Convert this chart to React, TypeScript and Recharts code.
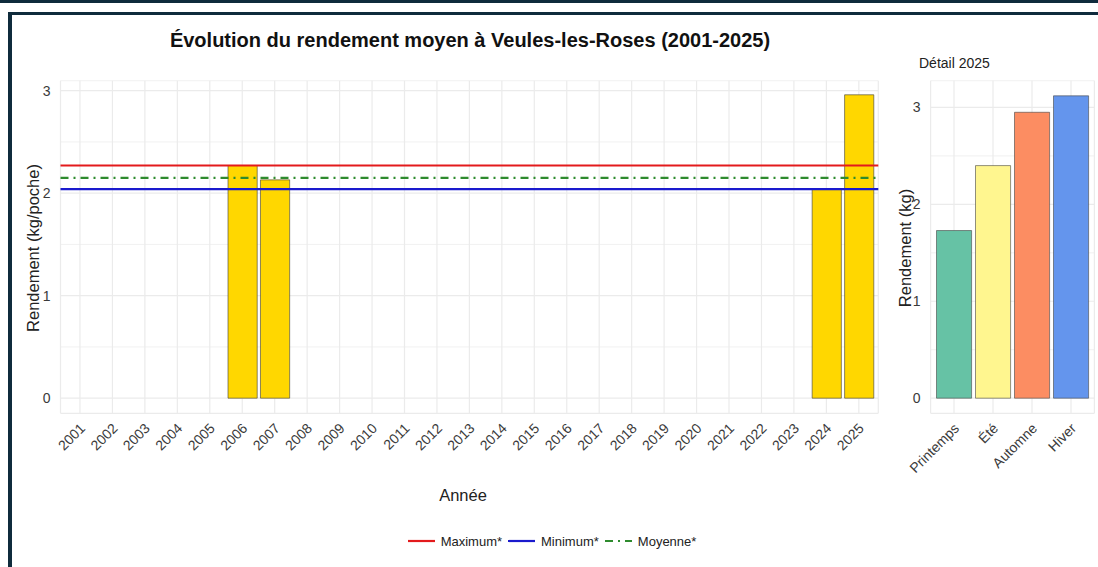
import React from 'react';
import { BarChart, Bar, XAxis, YAxis, CartesianGrid, ReferenceLine, Cell } from 'recharts';

// ---------- data ----------
const YEARS = ['2001','2002','2003','2004','2005','2006','2007','2008','2009','2010','2011','2012','2013','2014','2015','2016','2017','2018','2019','2020','2021','2022','2023','2024','2025'];
const RENDEMENT: (number | null)[] = [null,null,null,null,null,2.27,2.13,null,null,null,null,null,null,null,null,null,null,null,null,null,null,null,null,2.04,2.96];
const REF_MAX = 2.27;
const REF_MIN = 2.04;
const REF_MEAN = 2.15;
const Y_TICKS = [0, 0.5, 1, 1.5, 2, 2.5, 3];

const SEASONS = ['Printemps','Été','Automne','Hiver'];
const SEASON_VALUES = [1.73, 2.40, 2.95, 3.12];
const SEASON_COLORS = ['#66C2A5','#FFF68F','#FC8D62','#6495ED'];

const LEGEND_LABELS = ['Maximum*','Minimum*','Moyenne*'];
const LEGEND_COLORS = ['#e31a1c','#1a1acd','#2e8b2e'];
const LEGEND_DASH = ['', '', '8 5 2 5'];

const mainData = YEARS.map((y, i) => ({ annee: y, rendement: RENDEMENT[i] }));
const seasonData = SEASONS.map((s, i) => ({ saison: s, valeur: SEASON_VALUES[i] }));

const FONT = '"Liberation Sans", Arial, Helvetica, sans-serif';
const FRAME = '#0f2b3c';

const RotTick = (props: any) => {
  const { x, y, payload } = props;
  return (
    <g transform={`translate(${x + 6},${y + 8})`}>
      <text textAnchor="end" transform="rotate(-45)" fontSize={14} fill="#3a3a3a" fontFamily={FONT}>
        {payload.value}
      </text>
    </g>
  );
};

const intFmt = (v: number) => (Number.isInteger(v) ? String(v) : '');

const hGrid = (p: any) => {
  const major = p.index === undefined || p.index % 2 === 0;
  return (
    <line
      key={p.key}
      x1={p.x1}
      y1={p.y1}
      x2={p.x2}
      y2={p.y2}
      stroke="#ebebeb"
      strokeWidth={major ? 1.2 : 0.7}
    />
  );
};

export default function App() {
  const mainLeft = 60.5;
  const mainRight = 878.3;
  const mainPlotW = mainRight - mainLeft;
  const mainBand = mainPlotW / 25.2;
  const mainPad = 0.1 * mainBand;

  const sideLeftAbs = 930.6;
  const sideRightAbs = 1094.4;
  const sideChartLeft = 880;
  const sideChartW = 218;
  const sideBand = (sideRightAbs - sideLeftAbs) / 4.2;
  const sidePad = 0.1 * sideBand;

  const plotTop = 80.7;
  const plotBottom = 413.3;
  const H = 567;

  return (
    <div style={{ position: 'absolute', left: 0, top: 0, width: 1098, height: 567, background: '#fff', overflow: 'hidden', fontFamily: FONT }}>
      {/* frame */}
      <div style={{ position: 'absolute', left: 0, top: 0, width: 1098, height: 3, background: FRAME }} />
      <div style={{ position: 'absolute', left: 8, top: 12, width: 1090, height: 3, background: FRAME }} />
      <div style={{ position: 'absolute', left: 8, top: 12, width: 4, height: 555, background: FRAME }} />

      {/* main chart */}
      <div style={{ position: 'absolute', left: 0, top: 0 }}>
        <BarChart
          width={900}
          height={H}
          data={mainData}
          margin={{ top: plotTop, right: 900 - mainRight, left: mainLeft - 50, bottom: 0 }}
        >
          <CartesianGrid stroke="#ebebeb" strokeWidth={1.2} horizontal={hGrid} />
          <XAxis
            dataKey="annee"
            type="category"
            interval={0}
            tickLine={false}
            axisLine={false}
            height={H - plotBottom}
            padding={{ left: mainPad, right: mainPad }}
            tick={<RotTick />}
          />
          <YAxis
            type="number"
            width={50}
            domain={[-0.1475, 3.0975]}
            ticks={Y_TICKS}
            tickFormatter={intFmt}
            tickLine={false}
            axisLine={false}
            tickSize={6}
            tickMargin={4}
            tick={{ fontSize: 14, fill: '#3a3a3a', fontFamily: FONT }}
            allowDataOverflow
          />
          <Bar dataKey="rendement" fill="#FFD700" stroke="#3a3a3a" strokeWidth={0.6} barSize={mainBand * 0.9} isAnimationActive={false} />
          <ReferenceLine y={REF_MAX} stroke={LEGEND_COLORS[0]} strokeWidth={2.2} />
          <ReferenceLine y={REF_MIN} stroke={LEGEND_COLORS[1]} strokeWidth={2.2} />
          <ReferenceLine y={REF_MEAN} stroke={LEGEND_COLORS[2]} strokeWidth={2.2} strokeDasharray={LEGEND_DASH[2]} />
        </BarChart>
      </div>

      {/* side chart */}
      <div style={{ position: 'absolute', left: sideChartLeft, top: 0 }}>
        <BarChart
          width={sideChartW}
          height={H}
          data={seasonData}
          margin={{ top: plotTop, right: sideChartLeft + sideChartW - sideRightAbs, left: 0, bottom: 0 }}
        >
          <CartesianGrid stroke="#ebebeb" strokeWidth={1.2} horizontal={hGrid} />
          <XAxis
            dataKey="saison"
            type="category"
            interval={0}
            tickLine={false}
            axisLine={false}
            height={H - plotBottom}
            padding={{ left: sidePad, right: sidePad }}
            tick={<RotTick />}
          />
          <YAxis
            type="number"
            width={sideLeftAbs - sideChartLeft}
            domain={[-0.156, 3.276]}
            ticks={Y_TICKS}
            tickFormatter={intFmt}
            tickLine={false}
            axisLine={false}
            tickSize={6}
            tickMargin={4}
            tick={{ fontSize: 14, fill: '#3a3a3a', fontFamily: FONT }}
            allowDataOverflow
          />
          <Bar dataKey="valeur" stroke="#444" strokeWidth={0.6} barSize={sideBand * 0.9} isAnimationActive={false}>
            {seasonData.map((d, i) => (
              <Cell key={d.saison} fill={SEASON_COLORS[i]} />
            ))}
          </Bar>
        </BarChart>
      </div>

      {/* titles */}
      <svg width={1098} height={567} style={{ position: 'absolute', left: 0, top: 0, pointerEvents: 'none' }}>
        <text x={470} y={40} textAnchor="middle" dominantBaseline="central" fontSize={20} fontWeight="bold" fill="#111" fontFamily={FONT}>
          Évolution du rendement moyen à Veules-les-Roses (2001-2025)
        </text>
        <text x={919} y={63} dominantBaseline="central" fontSize={14} fill="#222" fontFamily={FONT}>
          Détail 2025
        </text>
        <text transform="translate(33,248) rotate(-90)" textAnchor="middle" dominantBaseline="central" fontSize={16.5} fill="#222" fontFamily={FONT}>
          Rendement (kg/poche)
        </text>
        <text transform="translate(905,248) rotate(-90)" textAnchor="middle" dominantBaseline="central" fontSize={16.5} fill="#222" fontFamily={FONT}>
          Rendement (kg)
        </text>
        <text x={463} y={495} textAnchor="middle" dominantBaseline="central" fontSize={16.5} fill="#222" fontFamily={FONT}>
          Année
        </text>
      </svg>

      {/* legend */}
      <div style={{ position: 'absolute', left: 0, top: 531, width: 1110, height: 20, display: 'flex', justifyContent: 'center', alignItems: 'center' }}>
        {LEGEND_LABELS.map((lab, i) => (
          <div key={lab} style={{ display: 'flex', alignItems: 'center', marginRight: 6 }}>
            <svg width={27} height={12} style={{ marginRight: 6 }}>
              <line x1={0} y1={6} x2={27} y2={6} stroke={LEGEND_COLORS[i]} strokeWidth={2.2} strokeDasharray={LEGEND_DASH[i] || undefined} />
            </svg>
            <span style={{ fontSize: 13, color: '#222', fontFamily: FONT }}>{lab}</span>
          </div>
        ))}
      </div>
    </div>
  );
}
